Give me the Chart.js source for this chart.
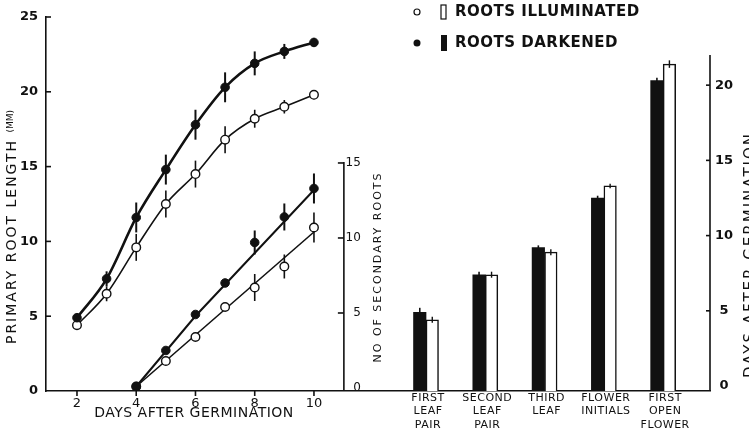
<!DOCTYPE html>
<html>
<head>
<meta charset="utf-8">
<script src="https://cdn.jsdelivr.net/npm/chart.js@4"></script>
<style>
  html, body { margin: 0; padding: 0; background: #fff; }
  #wrap { position: relative; width: 749px; height: 437px; }
</style>
</head>
<body>
<div id="wrap"><canvas id="fig" width="749" height="437"></canvas></div>
<script>
// left panel: primary root length (mm) by day
const days = [2, 3, 4, 5, 6, 7, 8, 9, 10];
const lengthDark = [4.9, 7.5, 11.6, 14.8, 17.8, 20.3, 21.9, 22.7, 23.3];
const lengthDarkErr = [0.2, 0.5, 1.0, 1.0, 1.0, 1.0, 0.8, 0.5, 0.3];
const lengthLit = [4.4, 6.5, 9.6, 12.5, 14.5, 16.8, 18.2, 19.0, 19.8];
const lengthLitErr = [0.2, 0.5, 0.9, 0.9, 0.9, 0.9, 0.6, 0.45, 0.3];

// left panel: number of secondary roots
const rootDays = [4, 5, 6, 7, 8, 9, 10];
const rootsDark = [0.1, 2.5, 4.9, 7.0, 9.7, 11.4, 13.3];
const rootsDarkErr = [0, 0.2, 0.2, 0.2, 0.8, 0.9, 1.0];
const rootsLit = [0.1, 1.8, 3.4, 5.4, 6.7, 8.1, 10.7];
const rootsLitErr = [0, 0.2, 0.2, 0.2, 0.9, 0.8, 1.0];
const fitDarkDays = [4, 6, 10];
const fitDark = [0.1, 4.8, 13.2];
const fitLitDays = [4, 10];
const fitLit = [0.1, 10.4];

// right panel: days after germination to reach each stage
const stages = [['FIRST', 'LEAF', 'PAIR'], ['SECOND', 'LEAF', 'PAIR'], ['THIRD', 'LEAF'], ['FLOWER', 'INITIALS'], ['FIRST', 'OPEN', 'FLOWER']];
const stagePos = [1, 2, 3, 4, 5];
const stageDark = [4.9, 7.4, 9.2, 12.5, 20.3];
const stageDarkErr = [0.3, 0.2, 0.15, 0.15, 0.2];
const stageLit = [4.4, 7.4, 8.9, 13.3, 21.4];
const stageLitErr = [0.2, 0.2, 0.2, 0.15, 0.25];

const dayTicks = [2, 4, 6, 8, 10];
const lengthTicks = [0, 5, 10, 15, 20, 25];
const rootTicks = [0, 5, 10, 15];
const stageTicks = [0, 5, 10, 15, 20];

const black = '#111';
const FONT = '"DejaVu Sans", sans-serif';

const pts = (xs, ys) => xs.map((x, i) => ({ x, y: ys[i] }));

function line(c, x1, y1, x2, y2) {
  c.beginPath();
  c.moveTo(x1, y1);
  c.lineTo(x2, y2);
  c.stroke();
}

function text(c, str, x, y, opts = {}) {
  const { size = 12, align = 'center', rot = 0, spacing = 0, weight = 'normal' } = opts;
  c.save();
  c.translate(x, y);
  c.rotate(rot);
  c.font = `${weight} ${size}px ${FONT}`;
  c.letterSpacing = spacing + 'px';
  c.textAlign = align;
  c.textBaseline = 'middle';
  c.fillStyle = black;
  c.fillText(str, 0, 0);
  c.restore();
}

function drawErrors(chart, bars) {
  const c = chart.ctx;
  chart.data.datasets.forEach((ds, di) => {
    if (!ds.errors || (ds.type === 'bar') !== bars) return;
    const meta = chart.getDatasetMeta(di);
    const ys = chart.scales[ds.yAxisID];
    c.save();
    c.strokeStyle = black;
    c.lineWidth = ds.errWidth || 1.6;
    meta.data.forEach((el, i) => {
      const e = ds.errors[i];
      if (!e) return;
      const v = ds.data[i].y;
      line(c, el.x, ys.getPixelForValue(v + e), el.x, ys.getPixelForValue(v - e));
    });
    c.restore();
  });
}

const decor = {
  id: 'decor',
  beforeDatasetsDraw(chart) { drawErrors(chart, false); },
  afterDatasetsDraw(chart) { drawErrors(chart, true); },
  afterDraw(chart) {
    const c = chart.ctx;
    const { x, y, y2, xb, yb } = chart.scales;
    const area = chart.chartArea;
    c.save();
    c.strokeStyle = black;
    c.lineWidth = 1.6;

    // tick marks of the left panel
    lengthTicks.forEach(v => {
      if (!v) return;
      const py = y.getPixelForValue(v);
      line(c, area.left, py, area.left + 5, py);
    });
    dayTicks.forEach(v => {
      const px = x.getPixelForValue(v);
      line(c, px, area.bottom, px, area.bottom + 5);
    });

    // secondary roots axis, stands at day 11
    const sx = x.getPixelForValue(11.01);
    line(c, sx, area.bottom, sx, y2.getPixelForValue(15) - 1);
    rootTicks.forEach(v => {
      const py = y2.getPixelForValue(v);
      if (v) line(c, sx - 6, py, sx, py);
      text(c, String(v), sx + 17, py, { size: 12, align: 'right' });
    });

    // days axis of the right panel
    const rx = area.right;
    line(c, rx, area.bottom, rx, yb.getPixelForValue(22));
    stageTicks.forEach(v => {
      const py = yb.getPixelForValue(v);
      if (v) line(c, rx - 4, py, rx, py);
      text(c, String(v), rx + 14, py, { size: 13, weight: 'bold' });
    });

    // stage labels under the bars
    stages.forEach((lines, i) => {
      const px = xb.getPixelForValue(stagePos[i]) + 2;
      lines.forEach((t, j) => text(c, t, px, 398 + j * 13.5, { size: 11, spacing: 0.5 }));
    });

    // axis titles
    c.save();
    c.translate(12, 227);
    c.rotate(-Math.PI / 2);
    c.font = `14px ${FONT}`;
    c.letterSpacing = '2px';
    const main = 'PRIMARY ROOT LENGTH ';
    const w1 = c.measureText(main).width;
    c.font = `9px ${FONT}`;
    c.letterSpacing = '0px';
    const w2 = c.measureText('(MM)').width;
    const start = -(w1 + w2) / 2;
    c.fillStyle = black;
    c.textBaseline = 'middle';
    c.textAlign = 'left';
    c.font = `14px ${FONT}`;
    c.letterSpacing = '2px';
    c.fillText(main, start, 0);
    c.font = `9px ${FONT}`;
    c.letterSpacing = '0px';
    c.fillText('(MM)', start + w1, -1);
    c.restore();

    text(c, 'DAYS AFTER GERMINATION', 194, 413, { size: 14, spacing: 0.5 });
    text(c, 'NO OF SECONDARY ROOTS', 378, 267, { size: 11, spacing: 2, rot: -Math.PI / 2 });
    text(c, 'DAYS AFTER GERMINATION', 751, 255, { size: 15, spacing: 2, rot: -Math.PI / 2 });

    // legend
    c.lineWidth = 1.2;
    c.beginPath();
    c.arc(417, 12, 3, 0, Math.PI * 2);
    c.stroke();
    c.strokeRect(441, 5, 5, 14);
    text(c, 'ROOTS ILLUMINATED', 455, 12, { size: 15, align: 'left', spacing: 0.5, weight: 'bold' });
    c.fillStyle = black;
    c.beginPath();
    c.arc(417, 43, 3.5, 0, Math.PI * 2);
    c.fill();
    c.fillRect(441, 35, 6, 16);
    text(c, 'ROOTS DARKENED', 455, 43, { size: 15, align: 'left', spacing: 0.5, weight: 'bold' });
    c.restore();
  }
};

const pointDark = { pointRadius: 4.3, pointBackgroundColor: black, pointBorderColor: black, pointBorderWidth: 1 };
const pointLit = { pointRadius: 4.3, pointBackgroundColor: '#fff', pointBorderColor: black, pointBorderWidth: 1.4 };

new Chart(document.getElementById('fig'), {
  type: 'line',
  data: {
    datasets: [
      { label: 'Length, roots darkened', data: pts(days, lengthDark), errors: lengthDarkErr, errWidth: 2,
        xAxisID: 'x', yAxisID: 'y', borderColor: black, borderWidth: 2.6, cubicInterpolationMode: 'monotone', order: 1, ...pointDark },
      { label: 'Length, roots illuminated', data: pts(days, lengthLit), errors: lengthLitErr,
        xAxisID: 'x', yAxisID: 'y', borderColor: black, borderWidth: 1.6, cubicInterpolationMode: 'monotone', order: 2, ...pointLit },
      { label: 'Secondary roots, darkened', data: pts(rootDays, rootsDark), errors: rootsDarkErr, errWidth: 2,
        xAxisID: 'x', yAxisID: 'y2', showLine: false, order: 1, ...pointDark },
      { label: 'Secondary roots, illuminated', data: pts(rootDays, rootsLit), errors: rootsLitErr,
        xAxisID: 'x', yAxisID: 'y2', showLine: false, order: 2, ...pointLit },
      { label: 'Fit, darkened', data: pts(fitDarkDays, fitDark), xAxisID: 'x', yAxisID: 'y2',
        borderColor: black, borderWidth: 2, pointRadius: 0, tension: 0, order: 3 },
      { label: 'Fit, illuminated', data: pts(fitLitDays, fitLit), xAxisID: 'x', yAxisID: 'y2',
        borderColor: black, borderWidth: 1.6, pointRadius: 0, tension: 0, order: 3 },
      { type: 'bar', label: 'Roots darkened', data: pts(stagePos, stageDark), errors: stageDarkErr, errWidth: 1.6,
        xAxisID: 'xb', yAxisID: 'yb', backgroundColor: black, borderWidth: 0, barThickness: 12.5, base: -0.33, order: 5 },
      { type: 'bar', label: 'Roots illuminated', data: pts(stagePos, stageLit), errors: stageLitErr, errWidth: 1.4,
        xAxisID: 'xb', yAxisID: 'yb', backgroundColor: '#fff', borderColor: black, borderWidth: 1.5, barThickness: 12.5, base: -0.33, order: 5 }
    ]
  },
  options: {
    responsive: false,
    animation: false,
    layout: { padding: { top: 17, right: 39, left: 0, bottom: 0 } },
    plugins: { legend: { display: false }, tooltip: { enabled: false } },
    scales: {
      x: {
        type: 'linear', min: 0.954, max: 23.37, offset: false,
        afterBuildTicks: s => { s.ticks = dayTicks.map(v => ({ value: v })); },
        afterFit: s => { s.height = 46; },
        grid: { display: false, drawTicks: false },
        border: { color: black, width: 1.6 },
        ticks: { color: black, padding: 5, font: { family: FONT, size: 13 } }
      },
      y: {
        type: 'linear', min: 0, max: 25,
        afterBuildTicks: s => { s.ticks = lengthTicks.map(v => ({ value: v })); },
        afterFit: s => { s.width = 46; },
        grid: { display: false, drawTicks: false },
        border: { color: black, width: 1.6 },
        ticks: { color: black, padding: 8, font: { family: FONT, size: 13, weight: 'bold' } }
      },
      y2: { type: 'linear', display: false, min: -0.2, max: 24.73 },
      xb: { type: 'linear', display: false, min: -5.41, max: 5.79, offset: false },
      yb: { type: 'linear', display: false, min: -0.33, max: 24.53 }
    }
  },
  plugins: [decor]
});
</script>
</body>
</html>
